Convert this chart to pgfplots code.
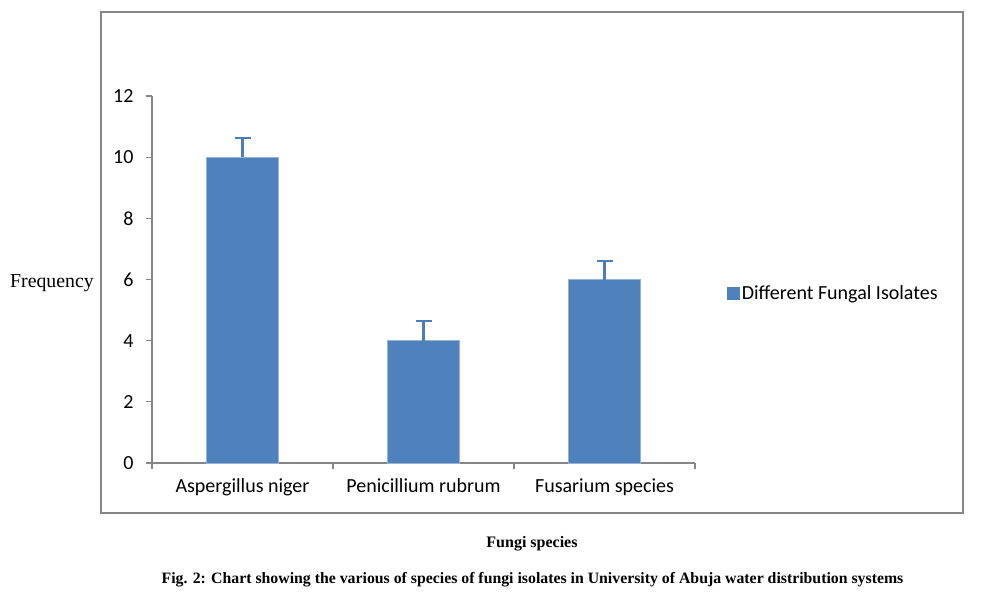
\documentclass[border=0pt]{standalone}
\usepackage{fontspec}
\setmainfont{Carlito}
\newfontfamily\seriffont{Liberation Serif}
\usepackage{pgfplots}
\pgfplotsset{compat=1.18}
\definecolor{barblue}{HTML}{4F81BD}
\definecolor{errblue}{HTML}{4A7EBB}
\definecolor{axgray}{HTML}{868686}
\begin{document}
\begin{tikzpicture}[x=1pt,y=1pt]
\useasboundingbox (0,0) rectangle (992,595);
% outer frame
\draw[axgray, line width=2pt] (101,583) rectangle (963,82);
\begin{axis}[
    at={(152pt,132pt)}, anchor=south west,
    scale only axis,
    width=543pt, height=367pt,
    ybar, bar width=72pt,
    xmin=-0.5, xmax=2.5,
    ymin=0, ymax=12,
    ytick={0,2,...,12},
    xtick={0,1,2},
    xticklabels={Aspergillus niger, Penicillium rubrum, Fusarium species},
    minor xtick={-0.5,0.5,1.5,2.5},
    axis x line*=bottom, axis y line*=left,
    axis line style={axgray, line width=1.5pt, -},
    tick align=outside,
    major tick length=6pt, minor tick length=6pt,
    major x tick style={draw=none},
    minor x tick style={axgray, line width=1.2pt},
    ytick style={axgray, line width=1.2pt},
    tick label style={font=\fontsize{20}{22}\selectfont, black},
    xticklabel style={yshift=-6pt},
    yticklabel style={xshift=-9pt},
    /pgf/number format/assume math mode=true,
    legend style={at={(axis description cs:1.059,0.463)}, anchor=west, draw=none,
        font=\fontsize{20}{22}\selectfont, inner sep=0pt},
    legend image code/.code={\fill[barblue] (-2pt,-6pt) rectangle (10pt,6pt);},
    clip=false,
]
\addplot[fill=barblue, draw=barblue!60!white, line width=0.6pt,
    error bars/.cd, y dir=plus, y explicit,
    error bar style={errblue, line width=2.2pt},
    error mark options={errblue, line width=2.2pt, mark size=8pt, rotate=90}]
  coordinates {
    (0,10) +- (0,0.63)
    (1,4)  +- (0,0.64)
    (2,6)  +- (0,0.60)
  };
\addlegendentry{Different Fungal Isolates}
\end{axis}
\node[anchor=west, font=\seriffont\fontsize{19.8}{22}\selectfont, inner sep=0pt] at (10,312) {Frequency};
\node[font=\seriffont\bfseries\fontsize{16}{18}\selectfont, inner sep=0pt] at (532,51) {Fungi species};
\node[font=\seriffont\bfseries\fontsize{15.8}{18}\selectfont, inner sep=0pt] at (532.5,15) {Fig. 2: Chart showing the various of species of fungi isolates in University of Abuja water distribution systems};
\end{tikzpicture}
\end{document}
